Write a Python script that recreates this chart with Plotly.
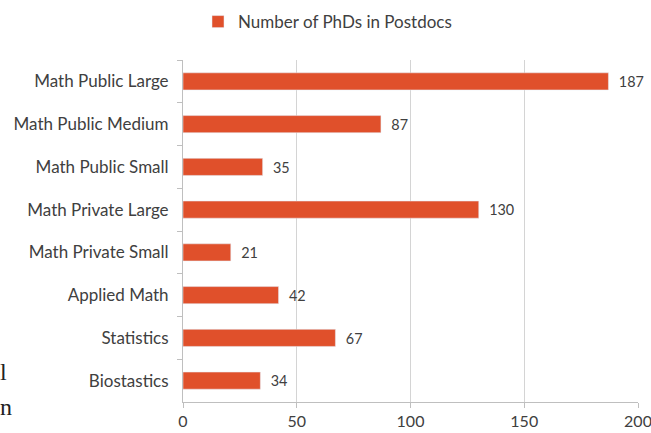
import plotly.graph_objects as go

categories = ["Math Public Large", "Math Public Medium", "Math Public Small",
              "Math Private Large", "Math Private Small", "Applied Math",
              "Statistics", "Biostastics"]
postdocs = [187, 87, 35, 130, 21, 42, 67, 34]
x_ticks = [0, 50, 100, 150, 200]

bar_color = "#E0502B"
font_name = "Lato, 'Open Sans', sans-serif"

fig = go.Figure()
fig.add_trace(go.Bar(
    y=categories,
    x=postdocs,
    orientation="h",
    name="Number of PhDs in Postdocs",
    marker=dict(color=bar_color),
    text=postdocs,
    texttemplate="  %{x}",
    textposition="outside",
    textfont=dict(size=16, color="#404040"),
    cliponaxis=False,
))

fig.update_layout(
    width=651, height=433,
    margin=dict(l=183, r=13, t=60, b=31, autoexpand=False),
    plot_bgcolor="white", paper_bgcolor="white",
    font=dict(family=font_name, size=17, color="#404040"),
    bargap=0.6,
    showlegend=True,
    legend=dict(orientation="h", x=0.033, xanchor="left", y=1.111, yanchor="middle",
                font=dict(size=17, color="#404040")),
    xaxis=dict(range=[0, 200], tickvals=x_ticks, showgrid=True, gridcolor="#D4D4D4",
               gridwidth=1, showline=True, linecolor="#BFBFBF", ticks="outside",
               ticklen=5, tickcolor="#BFBFBF", zeroline=False,
               tickfont=dict(size=16), ticklabeloverflow="allow"),
    yaxis=dict(autorange="reversed", showline=True, linecolor="#BFBFBF",
               ticks="outside", tickson="boundaries", ticklen=5, tickcolor="#BFBFBF",
               ticklabelstandoff=10, showgrid=False),
)

# page text cut off at the left edge
for txt, ypix in [("l", 372), ("n", 407)]:
    fig.add_annotation(text=txt, xref="paper", yref="paper",
                       x=-185 / 455, y=1 - (ypix - 60) / 342,
                       xanchor="left", yanchor="middle", showarrow=False,
                       font=dict(family="Liberation Serif", size=24, color="#222222"))

fig.write_html("out.html", config={"displayModeBar": False},
               post_script="document.body.style.margin='0';document.body.style.overflow='hidden';")
